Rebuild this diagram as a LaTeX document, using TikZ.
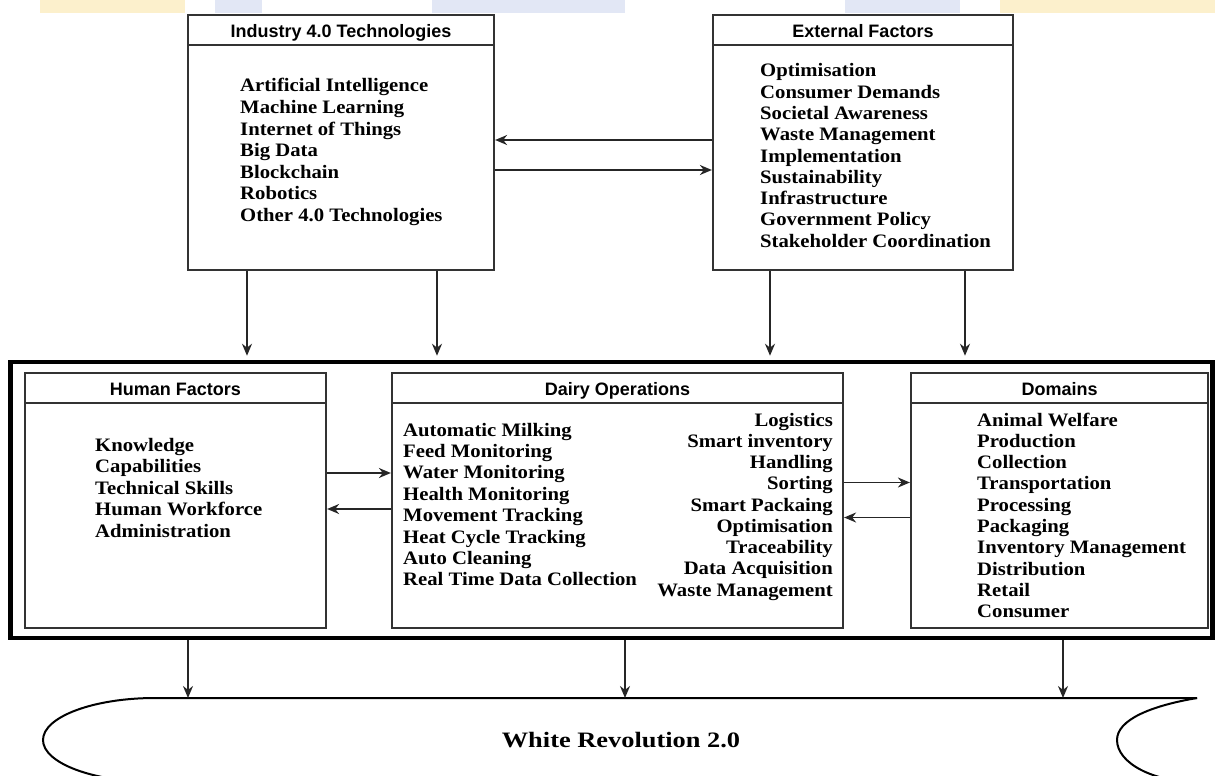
\documentclass[tikz,border=0pt]{standalone}
\usepackage{fontspec}
\setmainfont{Liberation Serif}
\setsansfont{Liberation Sans}
\newfontfamily\listfont[FakeStretch=1.09]{Liberation Serif}
\newfontfamily\titlefont[FakeStretch=1.2]{Liberation Serif}
\usepackage{tikz}
\usetikzlibrary{arrows.meta, calc, positioning}
\definecolor{markyellow}{HTML}{FCF0CC}
\definecolor{markblue}{HTML}{E2E7F5}
\tikzset{
    panelbox/.style={draw=black!80, line width=2.2pt, inner sep=0pt},
    headbox/.style={draw=black!80, line width=2.2pt, minimum height=30pt, inner sep=0pt, text height=15pt, text depth=0pt, font=\sffamily\bfseries\fontsize{18}{20}\selectfont},
    item/.style={inner sep=0pt, font=\listfont\bfseries\fontsize{19}{21}\selectfont},
    flow/.style={-{Stealth[length=12pt, width=10pt]}, line width=1.8pt, black!85},
}
\newcommand{\panel}[5]{
    \node[panelbox, minimum width=#3, minimum height=#4] (#1) at (#2) {};
    \node[headbox, minimum width=#3, anchor=north] (#1-h) at (#1.north) {#5};
}

\begin{document}
\begin{tikzpicture}[x=1pt, y=-1pt]
    \useasboundingbox (0,0) rectangle (1215,776);
    % watermark strip
    \fill[markyellow] (40,0) rectangle (185,13);
    \fill[markblue] (215,0) rectangle (262,13);
    \fill[markblue] (432,0) rectangle (625,13);
    \fill[markblue] (845,0) rectangle (960,13);
    \fill[markyellow] (1000,0) rectangle (1215,13);
    % top panels
    \panel{ind}{341, 142.5}{306pt}{255pt}{Industry 4.0 Technologies}
    \panel{ext}{863, 142.5}{300pt}{255pt}{External Factors}
    \foreach \t [count=\i] in {Artificial Intelligence, Machine Learning, Internet of Things, Big Data, Blockchain, Robotics, Other 4.0 Technologies}
        \node[item, anchor=base west] (ind-\i) at (240, 92+21.5*\i-21.5) {\t};
    \foreach \t [count=\i] in {Optimisation, Consumer Demands, Societal Awareness, Waste Management, Implementation, Sustainability, Infrastructure, Government Policy, Stakeholder Coordination}
        \node[item, anchor=base west] (ext-\i) at (760, 77+21.25*\i-21.25) {\t};
    % frame with inner panels
    \node[draw, line width=4.5pt, minimum width=1202pt, minimum height=276pt, inner sep=0pt] (frame) at (611.5, 500) {};
    \panel{hum}{175.5, 500.5}{301pt}{255pt}{Human Factors}
    \panel{dai}{617.5, 500.5}{451pt}{255pt}{Dairy Operations}
    \panel{dom}{1059.5, 500.5}{297pt}{255pt}{Domains}
    \foreach \t [count=\i] in {Knowledge, Capabilities, Technical Skills, Human Workforce, Administration}
        \node[item, anchor=base west] (hum-\i) at (95, 451+21.5*\i-21.5) {\t};
    \foreach \t [count=\i] in {Automatic Milking, Feed Monitoring, Water Monitoring, Health Monitoring, Movement Tracking, Heat Cycle Tracking, Auto Cleaning, Real Time Data Collection}
        \node[item, anchor=base west] (dail-\i) at (403, 436+21.4*\i-21.4) {\t};
    \foreach \t [count=\i] in {Logistics, Smart inventory, Handling, Sorting, Smart Packaing, Optimisation, Traceability, Data Acquisition, Waste Management}
        \node[item, anchor=base east] (dair-\i) at (833, 426+21.25*\i-21.25) {\t};
    \foreach \t [count=\i] in {Animal Welfare, Production, Collection, Transportation, Processing, Packaging, Inventory Management, Distribution, Retail, Consumer}
        \node[item, anchor=base west] (dom-\i) at (977, 426+21.3*\i-21.3) {\t};
    % banner
    \coordinate (wrtop) at (611.5, 698);
    \draw[line width=2pt] (1197,698) -- (155,698) .. controls (93,698) and (43,717) .. (43,740) .. controls (43,763) and (93,782) .. (155,782);
    \draw[line width=2pt] (1197,698) .. controls (1150,706) and (1117,720) .. (1117,740) .. controls (1117,763) and (1153,782) .. (1197,782);
    \node[inner sep=0pt, anchor=base, font=\titlefont\bfseries\fontsize{22}{24}\selectfont] (wr) at (621, 747) {White Revolution 2.0};
    % connectors
    \draw[flow] ([yshift=2.5pt]ext.west) -- ([yshift=2.5pt]ext.west -| ind.east);
    \draw[flow] ([yshift=-27.5pt]ind.east) -- ([yshift=-27.5pt]ind.east -| ext.west);
    \draw[flow, shorten >=4pt] ([xshift=-94pt]ind.south) -- ([xshift=-94pt]ind.south |- frame.north);
    \draw[flow, shorten >=4pt] ([xshift=96pt]ind.south) -- ([xshift=96pt]ind.south |- frame.north);
    \draw[flow, shorten >=4pt] ([xshift=-93pt]ext.south) -- ([xshift=-93pt]ext.south |- frame.north);
    \draw[flow, shorten >=4pt] ([xshift=102pt]ext.south) -- ([xshift=102pt]ext.south |- frame.north);
    \draw[flow] ([yshift=27.5pt]hum.east) -- ([yshift=27.5pt]hum.east -| dai.west);
    \draw[flow] ([yshift=-8.5pt]dai.west) -- ([yshift=-8.5pt]dai.west -| hum.east);
    \draw[flow] ([yshift=18pt]dai.east) -- ([yshift=18pt]dai.east -| dom.west);
    \draw[flow] ([yshift=-17pt]dom.west) -- ([yshift=-17pt]dom.west -| dai.east);
    \draw[flow] ([xshift=-423.5pt]frame.south) -- ([xshift=-423.5pt]frame.south |- wrtop);
    \draw[flow] ([xshift=13.5pt]frame.south) -- ([xshift=13.5pt]frame.south |- wrtop);
    \draw[flow] ([xshift=451.5pt]frame.south) -- ([xshift=451.5pt]frame.south |- wrtop);
\end{tikzpicture}
\end{document}
